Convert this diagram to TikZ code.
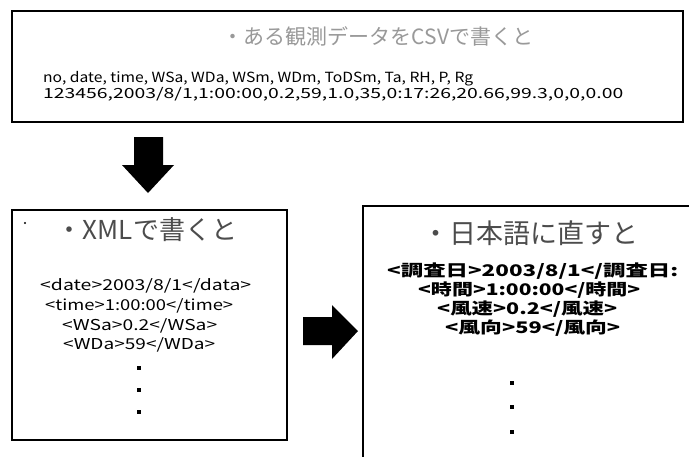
\documentclass[tikz,border=0pt]{standalone}
\usepackage{fontspec}
\usepackage{graphicx}
\setmainfont{Noto Sans CJK JP}
\newcommand{\fitw}[2]{\resizebox{#1}{\height}{#2}}
\begin{document}
\begin{tikzpicture}[x=1pt,y=-1pt,
  frame/.style={draw=black,line width=1.5pt,inner sep=0pt},
  ttl/.style={inner sep=0pt,font=\fontsize{26}{26}\selectfont,text=black!70},
  row/.style={inner sep=0pt,anchor=west,font=\fontsize{14}{14}\selectfont},
  lrow/.style={inner sep=0pt,anchor=west,font=\fontsize{15}{15}\selectfont},
  rrow/.style={inner sep=0pt,anchor=west,font=\bfseries\fontsize{16}{16}\selectfont},
  dotm/.style={fill=black,minimum size=3.5pt,inner sep=0pt,draw=none},
  blockarrow/.style={fill=black,draw=none}]
\useasboundingbox (0,0) rectangle (689,456);
\clip (0,0) rectangle (689,456);
\fill[white] (0,0) rectangle (689,456);
% top box
\draw[frame] (12,11) rectangle (683,122);
\node[ttl,text=black!40,font=\fontsize{21}{21}\selectfont] (csvtitle) at (378,36) {・ある観測データをCSVで書くと};
\node[row] (csv1) at (43,79) {\fitw{430pt}{no, date, time, WSa, WDa, WSm, WDm, ToDSm, Ta, RH, P, Rg}};
\node[row] (csv2) at (43,94) {\fitw{580pt}{123456,2003/8/1,1:00:00,0.2,59,1.0,35,0:17:26,20.66,99.3,0,0,0.00}};
% down arrow
\fill[blockarrow] (134,137) -- (163,137) -- (163,165) -- (174,165) -- (148,193) -- (122,165) -- (134,165) -- cycle;
% left box
\draw[frame] (12,210) rectangle (287,440);
\fill (25,223) circle (1.2);
\node[ttl] (xmltitle) at (147,230) {・XMLで書くと};
\node[lrow] (l1) at (40,286) {\fitw{211pt}{<date>2003/8/1</data>}};
\node[lrow] (l2) at (45,306) {\fitw{188pt}{<time>1:00:00</time>}};
\node[lrow] (l3) at (62,326) {\fitw{155pt}{<WSa>0.2</WSa>}};
\node[lrow] (l4) at (63,345) {\fitw{152pt}{<WDa>59</WDa>}};
\node[dotm] (ld1) at (139,368) {};
\node[dotm] (ld2) at (139,390) {};
\node[dotm] (ld3) at (139,412) {};
% right arrow
\fill[blockarrow] (303,317) -- (332,317) -- (332,305) -- (358,331) -- (332,359) -- (332,345) -- (303,345) -- cycle;
% right box (runs off the page)
\draw[frame] (363,470) -- (363,206) -- (700,206);
\node[ttl,font=\fontsize{27}{27}\selectfont] (jptitle) at (530,233) {・日本語に直すと};
\node[rrow] (r1) at (387,271) {\fitw{291pt}{<調査日>2003/8/1</調査日:}};
\node[rrow] (r2) at (418,290) {\fitw{222pt}{<時間>1:00:00</時間>}};
\node[rrow] (r3) at (437,309) {\fitw{180pt}{<風速>0.2</風速>}};
\node[rrow] (r4) at (445,328) {\fitw{175pt}{<風向>59</風向>}};
\node[dotm] (rd1) at (512,383) {};
\node[dotm] (rd2) at (512,407) {};
\node[dotm] (rd3) at (512,432) {};
\end{tikzpicture}
\end{document}
